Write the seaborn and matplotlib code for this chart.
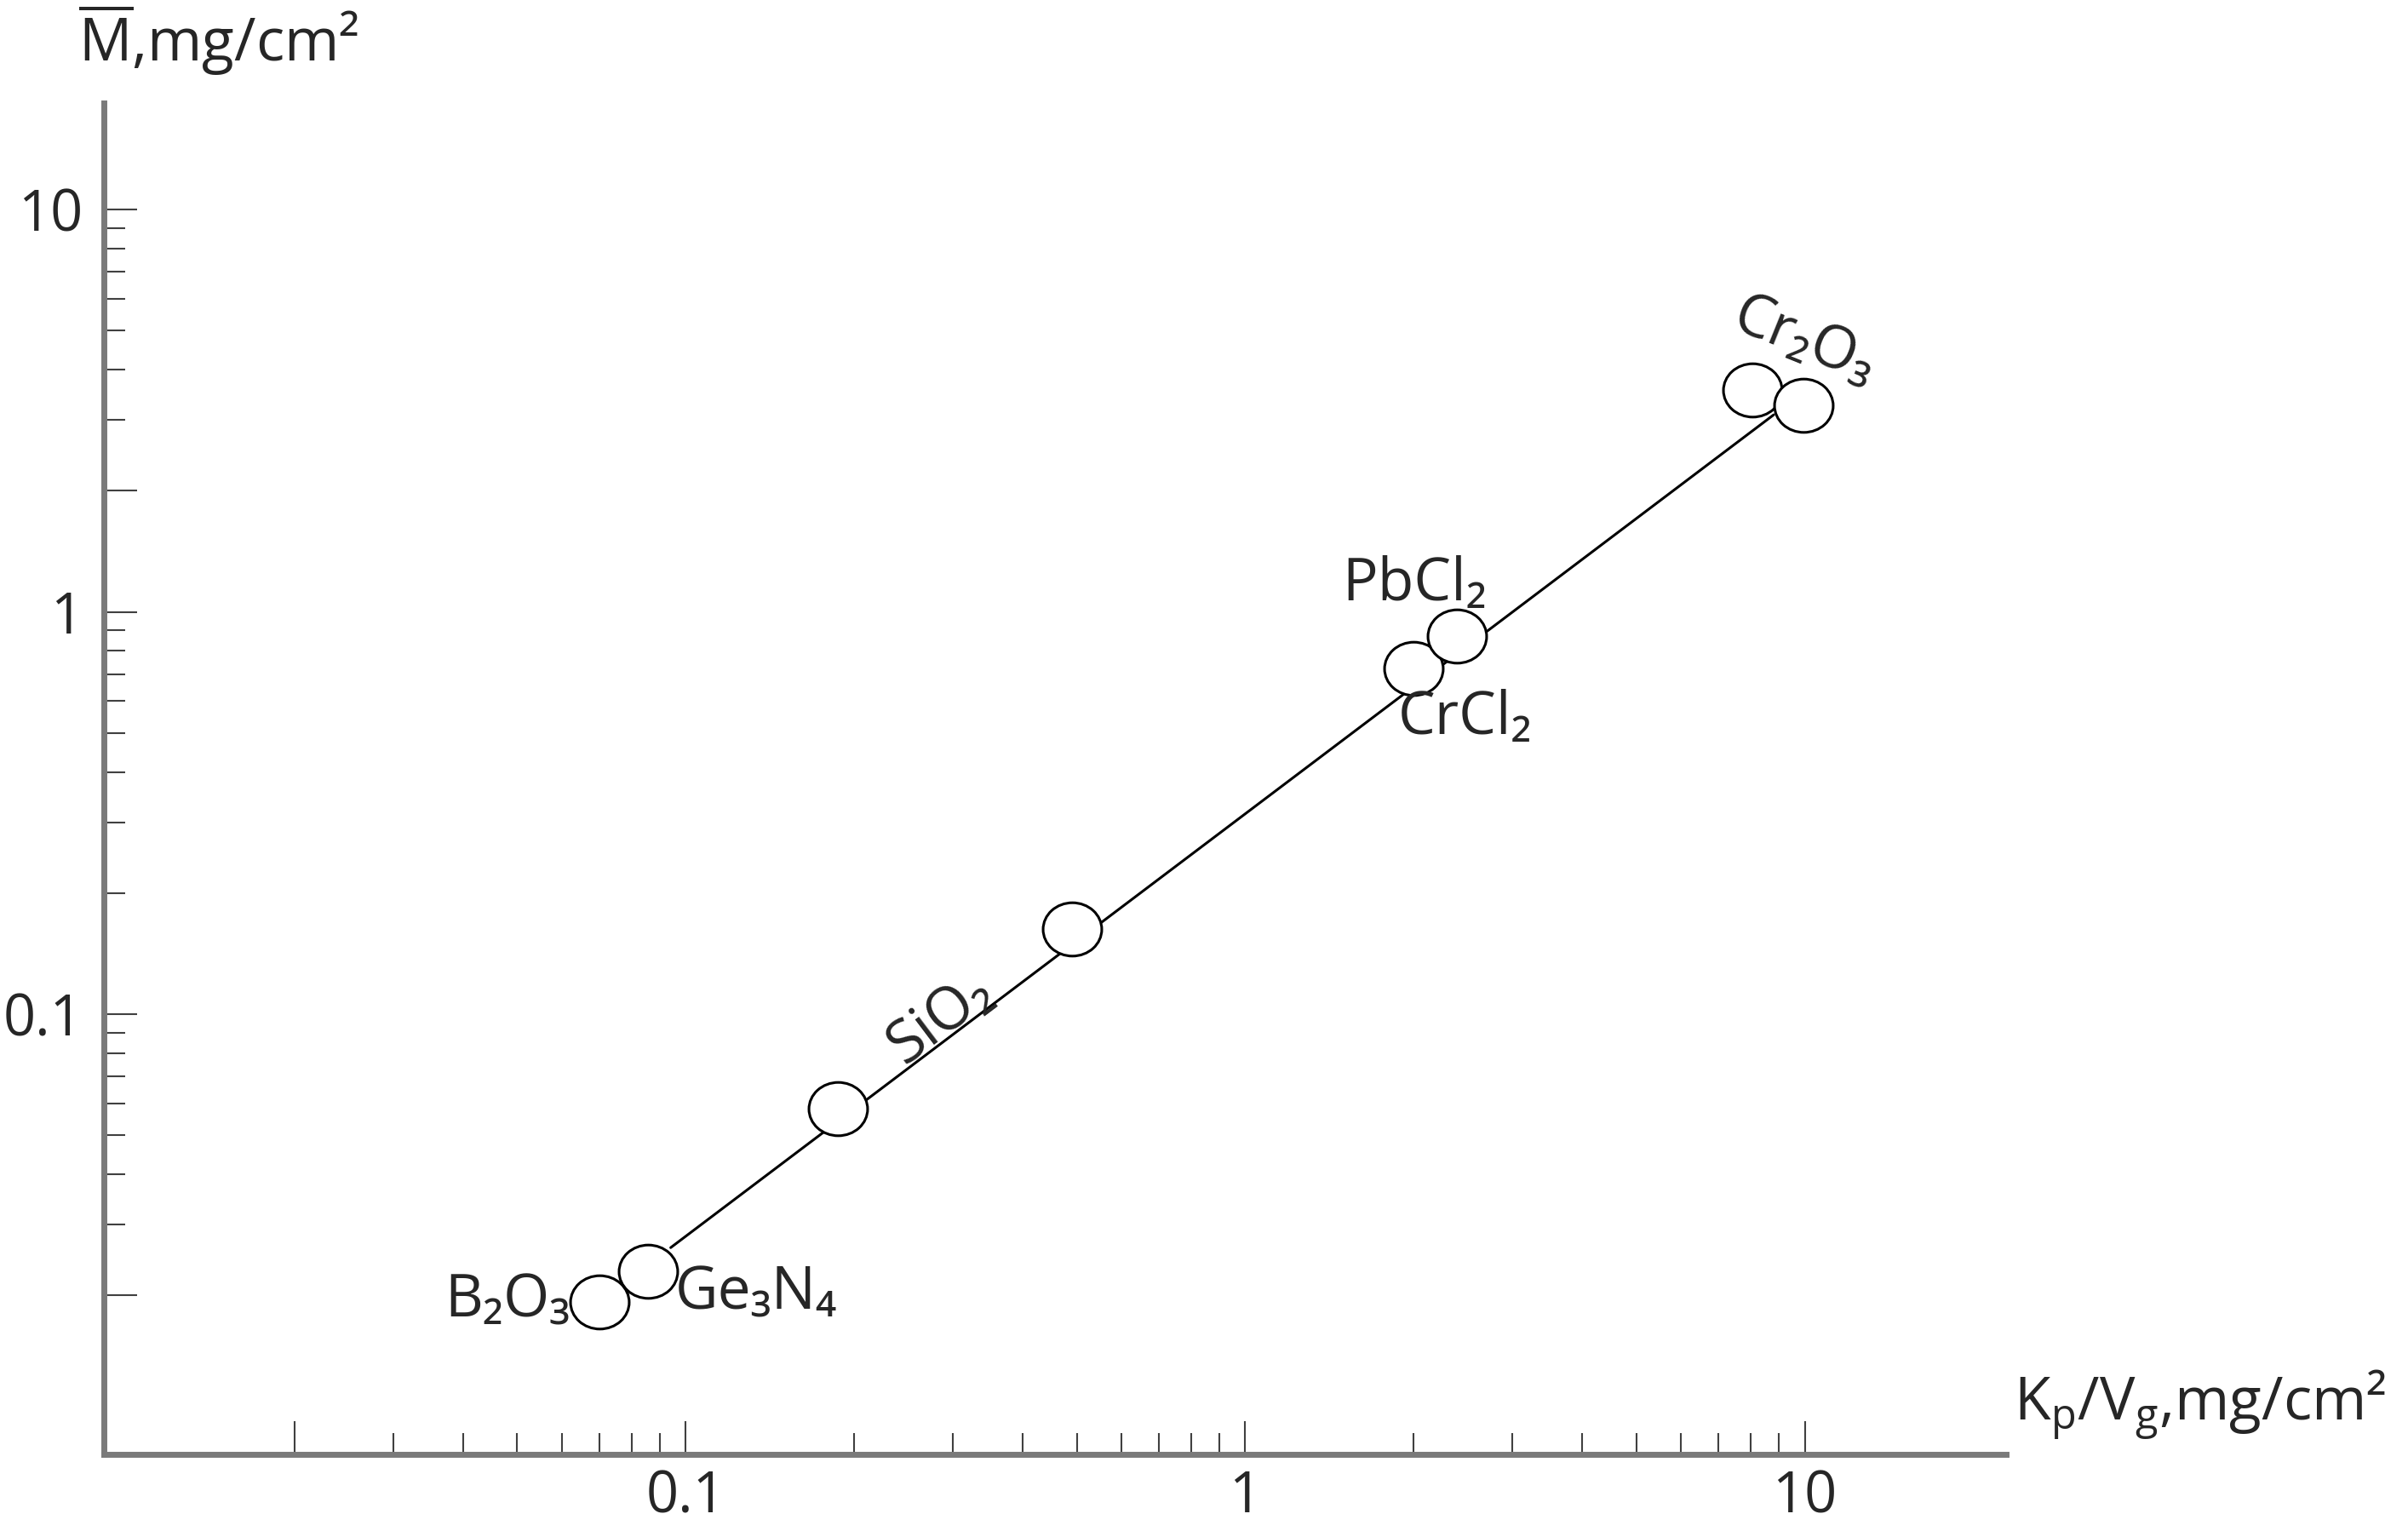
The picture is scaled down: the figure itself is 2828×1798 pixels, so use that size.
import numpy as np
import pandas as pd
import seaborn as sns
import matplotlib.pyplot as plt
from matplotlib.path import Path
from matplotlib.transforms import Affine2D
from matplotlib.ticker import FixedLocator, FixedFormatter, NullFormatter

# values
kp_vg = [0.070, 0.0857, 0.187, 0.491, 2.00, 2.39, 8.05, 9.95]
m_mean = [0.0193, 0.0230, 0.0582, 0.163, 0.723, 0.871, 3.56, 3.26]
fit_x = [0.094, 8.8]
fit_y = [0.0263, 3.09]

x_major = [0.02, 0.1, 1, 10]
x_major_labels = ["", "0.1", "1", "10"]
x_minor = [0.03, 0.04, 0.05, 0.06, 0.07, 0.08, 0.09,
           0.2, 0.3, 0.4, 0.5, 0.6, 0.7, 0.8, 0.9,
           2, 3, 4, 5, 6, 7, 8, 9]
y_major = [0.02, 0.1, 1, 2, 10]
y_major_labels = ["", "0.1", "1", "", "10"]
y_minor = [0.03, 0.04, 0.05, 0.06, 0.07, 0.08, 0.09,
           0.2, 0.3, 0.4, 0.5, 0.6, 0.7, 0.8, 0.9,
           3, 4, 5, 6, 7, 8, 9]

points = pd.DataFrame({"kp_vg": kp_vg, "m": m_mean})
fit = pd.DataFrame({"kp_vg": fit_x, "m": fit_y})

sns.set_style("ticks")
plt.rcParams["font.family"] = ["Open Sans", "DejaVu Sans"]
plt.rcParams["mathtext.fontset"] = "custom"
plt.rcParams["mathtext.rm"] = "Open Sans"
plt.rcParams["mathtext.it"] = "Open Sans:italic"
plt.rcParams["mathtext.bf"] = "Open Sans:bold"

fig = plt.figure(figsize=(14.14, 8.99), dpi=200)
ax = fig.add_axes([0.0431, 0.0501, 0.7900, 0.8826])

sns.lineplot(data=fit, x="kp_vg", y="m", color="black", linewidth=1.1, ax=ax, zorder=2)

# slightly wide ellipse marker
circ = Path.unit_circle()
ellipse = Path(Affine2D().scale(1.1, 1.0).transform(circ.vertices), circ.codes)
sns.scatterplot(data=points, x="kp_vg", y="m", marker=ellipse, s=615,
                facecolor="white", edgecolor="black", linewidth=1.1, ax=ax, zorder=3)

ax.set_xscale("log")
ax.set_yscale("log")
ax.set_xlim(0.00912, 22.9)
ax.set_ylim(0.00806, 18.4)

ax.xaxis.set_major_locator(FixedLocator(x_major))
ax.xaxis.set_major_formatter(FixedFormatter(x_major_labels))
ax.xaxis.set_minor_locator(FixedLocator(x_minor))
ax.xaxis.set_minor_formatter(NullFormatter())
ax.yaxis.set_major_locator(FixedLocator(y_major))
ax.yaxis.set_major_formatter(FixedFormatter(y_major_labels))
ax.yaxis.set_minor_locator(FixedLocator(y_minor))
ax.yaxis.set_minor_formatter(NullFormatter())

ax.tick_params(which="both", direction="in", color="#404040", width=0.75, labelsize=24)
ax.tick_params(which="major", length=14)
ax.tick_params(which="minor", length=9)
ax.tick_params(axis="x", which="major", pad=6)
ax.tick_params(axis="y", which="major", pad=9)

sns.despine(ax=ax)
for side in ["left", "bottom"]:
    ax.spines[side].set_color("#7a7a7a")
    ax.spines[side].set_linewidth(2.5)

ax.set_xlabel("")
ax.set_ylabel("")

fig.text(92 / 2828, 1 - 72 / 1798, r"$\overline{\mathrm{M}}$,mg/cm²", fontsize=25,
         ha="left", va="baseline")
fig.text(2365 / 2828, 1 - 1668 / 1798, r"K$_\mathrm{p}$/V$_\mathrm{g}$,mg/cm²", fontsize=25,
         ha="left", va="baseline")

lab = dict(textcoords="offset pixels", fontsize=25, va="center")
ax.annotate("B₂O₃", (kp_vg[0], m_mean[0]), xytext=(-34, 0), ha="right", **lab)
ax.annotate("Ge₃N₄", (kp_vg[1], m_mean[1]), xytext=(31, -27), ha="left", **lab)
ax.annotate("SiO₂", (kp_vg[2], m_mean[2]), xytext=(121, 106), ha="center", rotation=37, **lab)
ax.annotate("CrCl₂", (kp_vg[4], m_mean[4]), xytext=(60, -59), ha="center", **lab)
ax.annotate("PbCl₂", (kp_vg[5], m_mean[5]), xytext=(-50, 60), ha="center", **lab)
ax.annotate("Cr₂O₃", (kp_vg[7], m_mean[7]), xytext=(1, 74), ha="center", rotation=-22, **lab)

fig.savefig("out.png", dpi=200)
